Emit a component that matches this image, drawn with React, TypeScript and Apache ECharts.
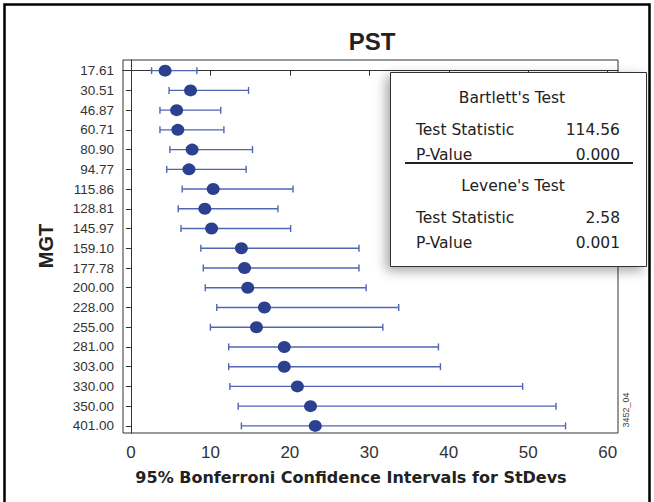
import React, { useEffect, useRef } from "react";
import * as echarts from "echarts";

const mgtLabels = ["17.61", "30.51", "46.87", "60.71", "80.90", "94.77", "115.86", "128.81", "145.97", "159.10", "177.78", "200.00", "228.00", "255.00", "281.00", "303.00", "330.00", "350.00", "401.00"];
const stdevs = [4.3, 7.5, 5.75, 5.9, 7.7, 7.3, 10.35, 9.3, 10.15, 13.9, 14.3, 14.7, 16.8, 15.8, 19.3, 19.3, 20.95, 22.6, 23.2];
const lowerCI = [2.6, 4.8, 3.65, 3.65, 4.9, 4.5, 6.45, 5.95, 6.3, 8.8, 9.1, 9.35, 10.8, 10.0, 12.3, 12.3, 12.45, 13.5, 13.9];
const upperCI = [8.3, 14.8, 11.3, 11.7, 15.3, 14.5, 20.4, 18.5, 20.1, 28.7, 28.7, 29.6, 33.7, 31.7, 38.7, 38.95, 49.3, 53.5, 54.7];
const xTicks = [0, 10, 20, 30, 40, 50, 60];
const statNames = ["Test Statistic", "P-Value"];
const bartlettValues = ["114.56", "0.000"];
const leveneValues = ["2.58", "0.001"];

const DOT = "#2B4190";
const LINE = "#5064B4";
const BOXFONT = "DejaVu Sans";

export default function App() {
  const ref = useRef<HTMLDivElement>(null);
  useEffect(() => {
    if (!ref.current) return;
    const chart = echarts.init(ref.current, undefined, { renderer: "svg" });
    const idxs = mgtLabels.map((_, i) => i);
    const boxText = (text: string, x: number, y: number, align: string) => ({
      type: "text",
      z: 102,
      x,
      y,
      style: { text, fill: "#222", font: `15.5px "${BOXFONT}"`, textAlign: align, textVerticalAlign: "middle" },
    });
    chart.setOption({
      animation: false,
      backgroundColor: "#ffffff",
      grid: { left: 123, top: 60, width: 495, height: 373, show: true, borderColor: "#333", borderWidth: 1, containLabel: false },
      xAxis: {
        type: "value",
        min: -1,
        max: 61.3,
        splitLine: { show: false },
        axisLine: { show: true, lineStyle: { color: "#333", width: 1 } },
        axisTick: { show: true, inside: false, length: 5, customValues: xTicks, lineStyle: { color: "#333" } },
        axisLabel: { customValues: xTicks, fontSize: 17, color: "#333", fontFamily: "Liberation Sans", margin: 11 },
      },
      yAxis: {
        type: "value",
        inverse: true,
        min: -0.54,
        max: 18.36,
        splitLine: { show: false },
        axisLine: { show: true, lineStyle: { color: "#333", width: 1 } },
        axisTick: { show: true, inside: false, length: 5, customValues: idxs, lineStyle: { color: "#333" } },
        axisLabel: {
          customValues: idxs,
          fontSize: 13.5,
          color: "#333",
          fontFamily: "Liberation Sans",
          margin: 9,
          formatter: (v: number) => mgtLabels[Math.round(v)] ?? "",
        },
      },
      series: [
        {
          type: "custom",
          data: idxs.map((i) => [i, lowerCI[i], upperCI[i]]),
          encode: { x: [1, 2], y: 0 },
          renderItem: (params: any, api: any) => {
            const idx = api.value(0);
            const lo = api.coord([api.value(1), idx]);
            const hi = api.coord([api.value(2), idx]);
            const h = 3.5;
            const st = { stroke: LINE, lineWidth: 1.4 };
            return {
              type: "group",
              children: [
                { type: "line", shape: { x1: lo[0], y1: lo[1], x2: hi[0], y2: hi[1] }, style: st },
                { type: "line", shape: { x1: lo[0], y1: lo[1] - h, x2: lo[0], y2: lo[1] + h }, style: st },
                { type: "line", shape: { x1: hi[0], y1: hi[1] - h, x2: hi[0], y2: hi[1] + h }, style: st },
              ],
            };
          },
          z: 3,
        },
        {
          type: "scatter",
          data: stdevs.map((v, i) => [v, i]),
          symbol: "circle",
          symbolSize: [13, 12],
          itemStyle: { color: DOT, opacity: 1 },
          z: 4,
        },
      ],
      graphic: [
        {
          type: "rect",
          z: 0,
          shape: { x: 4.5, y: 4.5, width: 645, height: 530 },
          style: { fill: "none", stroke: "#000", lineWidth: 2.5 },
        },
        {
          type: "text",
          x: 372,
          y: 41,
          style: { text: "PST", font: 'bold 24px "Liberation Sans"', fill: "#222", textAlign: "center", textVerticalAlign: "middle" },
        },
        {
          type: "text",
          x: 46,
          y: 246,
          rotation: Math.PI / 2,
          style: { text: "MGT", font: 'bold 20px "Liberation Sans"', fill: "#222", textAlign: "center", textVerticalAlign: "middle" },
        },
        {
          type: "text",
          x: 351,
          y: 477,
          style: { text: "95% Bonferroni Confidence Intervals for StDevs", font: 'bold 16px "DejaVu Sans"', fill: "#222", textAlign: "center", textVerticalAlign: "middle" },
        },
        {
          type: "text",
          x: 626,
          y: 410,
          rotation: Math.PI / 2,
          style: { text: "3452_04", font: '9px "Liberation Sans"', fill: "#444", textAlign: "center", textVerticalAlign: "middle" },
        },
        {
          type: "rect",
          z: 100,
          shape: { x: 390.5, y: 72.5, width: 256, height: 194 },
          style: { fill: "#fff", stroke: "#333", lineWidth: 1, shadowBlur: 12, shadowColor: "rgba(0,0,0,0.35)", shadowOffsetX: -4, shadowOffsetY: 4 },
        },
        boxText("Bartlett's Test", 512, 98, "center"),
        boxText(statNames[0], 416, 130, "left"),
        boxText(bartlettValues[0], 620, 130, "right"),
        boxText(statNames[1], 416, 155, "left"),
        boxText(bartlettValues[1], 620, 155, "right"),
        {
          type: "line",
          z: 102,
          shape: { x1: 405, y1: 163, x2: 633, y2: 163 },
          style: { stroke: "#222", lineWidth: 2 },
        },
        boxText("Levene's Test", 513, 186, "center"),
        boxText(statNames[0], 416, 218, "left"),
        boxText(leveneValues[0], 620, 218, "right"),
        boxText(statNames[1], 416, 243, "left"),
        boxText(leveneValues[1], 620, 243, "right"),
      ],
    });
    return () => chart.dispose();
  }, []);
  return (
    <div
      ref={ref}
      style={{ position: "absolute", left: 0, top: 0, width: 654, height: 502, background: "#fff" }}
    />
  );
}
